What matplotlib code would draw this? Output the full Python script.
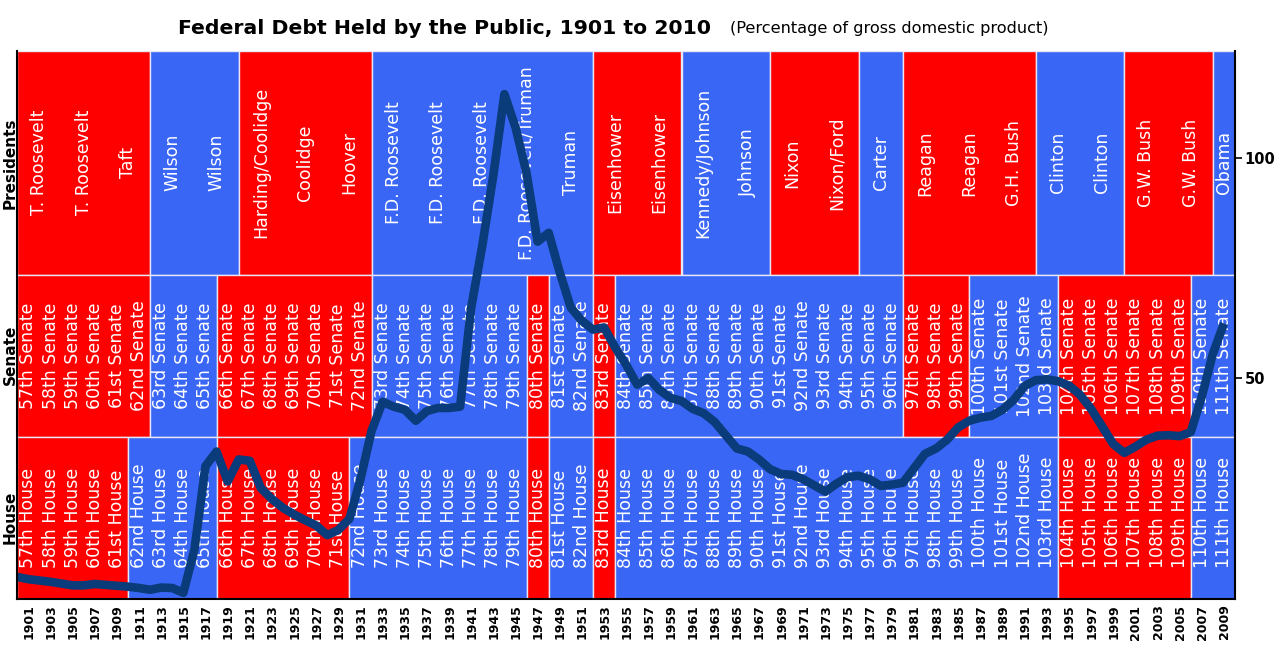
import matplotlib
matplotlib.use("Agg")
import matplotlib.pyplot as plt
from matplotlib.patches import Rectangle
import matplotlib.transforms as mtransforms

# debt held by the public, percent of GDP
years = list(range(1901, 2011))
debt_pct = [
    4.8, 4.3, 4.0, 3.7, 3.3, 2.9, 2.9, 3.2, 3.0, 2.8,      # 1901-1910
    2.6, 2.3, 1.9, 2.4, 2.3, 1.2, 11.0, 30.0, 33.3, 26.5,  # 1911-1920
    31.5, 31.2, 25.0, 22.5, 20.5, 19.0, 17.7, 16.5, 14.3, 15.5,  # 1921-1930
    18.0, 27.0, 38.0, 44.6, 43.5, 42.8, 40.3, 42.5, 43.2, 43.2,  # 1931-1940
    43.5, 66.0, 80.0, 96.0, 114.5, 107.0, 96.6, 81.0, 83.0, 74.0,  # 1941-1950
    66.0, 63.0, 61.0, 61.5, 57.0, 53.0, 48.5, 50.0, 47.3, 45.5,  # 1951-1960
    44.8, 43.0, 42.0, 40.0, 37.0, 34.0, 33.3, 31.5, 29.3, 28.2,  # 1961-1970
    28.0, 27.0, 25.6, 24.2, 26.0, 27.5, 27.8, 27.0, 25.5, 25.8,  # 1971-1980
    26.2, 29.5, 32.8, 34.0, 36.0, 38.8, 40.3, 41.0, 41.4, 42.8,  # 1981-1990
    45.0, 48.2, 49.5, 49.7, 49.3, 48.3, 46.2, 43.0, 39.0, 35.0,  # 1991-2000
    33.0, 34.4, 36.0, 36.9, 37.0, 36.8, 37.7, 45.8, 55.5, 62.4,  # 2001-2010
]

# presidential terms (start year, label, party)
pres_start = [1901, 1905, 1909, 1913, 1917, 1921, 1925, 1929, 1933, 1937,
              1941, 1945, 1949, 1953, 1957, 1961, 1965, 1969, 1973, 1977,
              1981, 1985, 1989, 1993, 1997, 2001, 2005, 2009]
pres_names = ["T. Roosevelt", "T. Roosevelt", "Taft", "Wilson", "Wilson",
              "Harding/Coolidge", "Coolidge", "Hoover", "F.D. Roosevelt",
              "F.D. Roosevelt", "F.D. Roosevelt", "F.D. Roosevelt/Truman",
              "Truman", "Eisenhower", "Eisenhower", "Kennedy/Johnson",
              "Johnson", "Nixon", "Nixon/Ford", "Carter", "Reagan", "Reagan",
              "G.H. Bush", "Clinton", "Clinton", "G.W. Bush", "G.W. Bush",
              "Obama"]
pres_party = "RRRDDRRRDDDDDRRDDRRDRRRDDRRD"

# congresses 57..111, majority party per chamber
congress_nums = list(range(57, 112))
senate_party = "RRRRRR" + "DDD" + "RRRRRRR" + "DDDDDDD" + "R" + "DD" + "R" + \
    "D" * 13 + "RRR" + "DDDD" + "RRRRRR" + "DD"
house_party = "RRRRR" + "DDDD" + "RRRRRR" + "DDDDDDDD" + "R" + "DD" + "R" + \
    "D" * 20 + "RRRRRR" + "DD"

RED = "#ff0000"
BLUE = "#3a66f5"
LINE = "#0a3b7a"
EDGE = "#e6e6f4"
COLORS = {"R": RED, "D": BLUE}

X0, X1 = 1901, 2011
HOUSE_TOP = 0.2965     # band edges in axes fraction
SENATE_TOP = 0.591


def ordinal(n):
    if 10 <= n % 100 <= 20:
        suf = "th"
    else:
        suf = {1: "st", 2: "nd", 3: "rd"}.get(n % 10, "th")
    return "%d%s" % (n, suf)


def draw_band(ax, starts, ends, parties, y0, y1):
    """Draw merged party blocks for one band (y in axes fraction)."""
    trans = mtransforms.blended_transform_factory(ax.transData, ax.transAxes)
    i = 0
    while i < len(starts):
        j = i
        while j + 1 < len(starts) and parties[j + 1] == parties[i]:
            j += 1
        ax.add_patch(Rectangle((starts[i], y0), ends[j] - starts[i], y1 - y0,
                               facecolor=COLORS[parties[i]], edgecolor=EDGE,
                               linewidth=1.0, transform=trans, zorder=1))
        i = j + 1


fig = plt.figure(figsize=(12.8, 6.48), dpi=100)
ax = fig.add_axes([17.3 / 1280, 49 / 648, (1235 - 17.3) / 1280, 548 / 648])
ax.set_xlim(X0, X1)
ax.set_ylim(-0.2, 124.3)

# presidents
pres_end = pres_start[1:] + [X1]
draw_band(ax, pres_start, pres_end, pres_party, SENATE_TOP, 1.0)
for s, e, name in zip(pres_start, pres_end, pres_names):
    ax.text((s + e) / 2, 98.9, name, rotation=90, ha="center", va="center",
            color="white", fontsize=12.5, zorder=2)

# senate and house
c_start = [1901 + 2 * (n - 57) for n in congress_nums]
c_end = [s + 2 for s in c_start]
draw_band(ax, c_start, c_end, senate_party, HOUSE_TOP, SENATE_TOP)
draw_band(ax, c_start, c_end, house_party, 0.0, HOUSE_TOP)
for n, s in zip(congress_nums, c_start):
    ax.text(s + 1, 55.0, ordinal(n) + " Senate", rotation=90, ha="center",
            va="center", color="white", fontsize=12.5, zorder=2)
    ax.text(s + 1, 6.8, ordinal(n) + " House", rotation=90, ha="center",
            va="bottom", color="white", fontsize=12.5, zorder=2)

# the debt line
ax.plot(years, debt_pct, color=LINE, linewidth=6.2, solid_joinstyle="round",
        solid_capstyle="butt", zorder=3)

# axes
ax.set_xticks([y + 1.05 for y in years[::2]])
ax.set_xticklabels([str(y) for y in years[::2]], rotation=90,
                   fontweight="bold", fontsize=9)
ax.tick_params(axis="x", length=0, pad=4)
ax.yaxis.tick_right()
ax.set_yticks([50, 100])
ax.set_yticklabels(["50", "100"], fontweight="bold", fontsize=10.5)
ax.tick_params(axis="y", length=5, width=1.2, pad=2, direction="out")
ax.spines["top"].set_visible(False)
for side in ("left", "bottom", "right"):
    ax.spines[side].set_linewidth(1.5)
    ax.spines[side].set_color("black")
    ax.spines[side].set_zorder(4)

# band titles on the left
for label, yc in (("Presidents", 0.748), ("Senate", 0.452), ("House", 0.202)):
    fig.text(10 / 1280, yc, label, rotation=90, ha="center", va="center",
             fontweight="bold", fontsize=11)

fig.text(178 / 1280, 1 - 28 / 648, "Federal Debt Held by the Public, 1901 to 2010",
         fontweight="bold", fontsize=14.7, ha="left", va="center")
fig.text(730 / 1280, 1 - 28 / 648, "(Percentage of gross domestic product)",
         fontsize=11.6, ha="left", va="center")

fig.savefig("out.png", dpi=100)
